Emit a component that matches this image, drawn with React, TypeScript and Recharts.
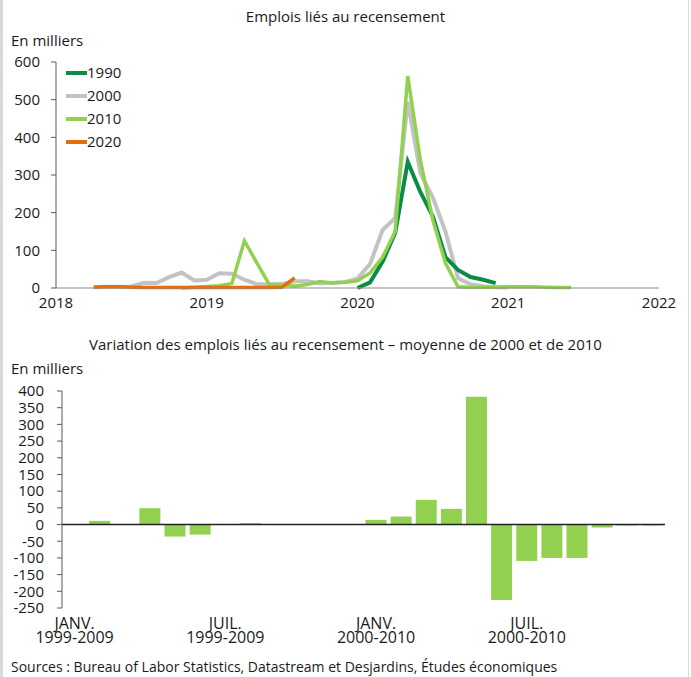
import React from 'react';
import {
  LineChart,
  Line,
  XAxis,
  YAxis,
  BarChart,
  Bar,
  ReferenceLine
} from 'recharts';

const FONT = '"Open Sans", sans-serif';
const TEXT = '#1a1a1a';

// Emplois liés au recensement (en milliers), indices de mois depuis janvier 2018
const yearTicks = [2018, 2019, 2020, 2021, 2022];
const lineTicks = [0, 100, 200, 300, 400, 500, 600];

const start1990 = 24;
const census1990 = [0, 15, 70, 146, 335, 255, 190, 82, 48, 29, 22, 13];

const start2000 = 3;
const census2000 = [
  2, 3, 3, 4, 14, 13, 29, 41, 20, 22, 39, 38, 22, 10, 10, 11, 18, 18, 12, 14, 16,
  25, 64, 154, 186, 495, 305, 240, 150, 26, 10, 5, 2, 1
];

const start2010 = 10;
const census2010 = [
  0, 2, 4, 6, 12, 125, 66, 8, 8, 5, 9, 17, 13, 15, 19, 40, 82, 150, 563, 340,
  180, 66, 3, 2, 2, 2, 3, 3, 3, 2, 1, 1
];

const start2020 = 3;
const census2020 = [2, 3, 3, 2, 1, 1, 1, 1, 1, 1, 1, 1, 1, 1, 1, 2, 27];

const seriesNames = ['1990', '2000', '2010', '2020'];
const seriesColors = ['#0b8c45', '#c3c3c3', '#92d050', '#e46c0a'];

// Variation : moyenne de 2000 et de 2010
const monthNames = ['JANV.', 'FÉVR.', 'MARS', 'AVR.', 'MAI', 'JUIN', 'JUIL.', 'AOÛT', 'SEPT.', 'OCT.', 'NOV.', 'DÉC.'];
const periods = ['1999-2009', '2000-2010'];
const variation = [
  0, 11, 0, 49, -36, -30, 0, 4, 0, 0, 0, 0,
  14, 24, 74, 47, 383, -226, -109, -100, -100, -9, -3, -3
];
const barTicks = [-250, -200, -150, -100, -50, 0, 50, 100, 150, 200, 250, 300, 350, 400];

const lineData = Array.from({ length: 48 }, (_, m) => {
  const pick = (arr: number[], start: number) =>
    m >= start && m < start + arr.length ? arr[m - start] : null;
  return {
    x: 2018 + m / 12,
    s1990: pick(census1990, start1990),
    s2000: pick(census2000, start2000),
    s2010: pick(census2010, start2010),
    s2020: pick(census2020, start2020)
  };
});

const barData = periods.flatMap((p, pi) =>
  monthNames.map((mn, mi) => ({
    name: `${mn}|${p}`,
    value: variation[pi * 12 + mi]
  }))
);

const LegendBox = () => (
  <div style={{ position: 'absolute', top: 61, left: 66, fontFamily: FONT, fontSize: 15, color: TEXT }}>
    {seriesNames.map((n, i) => (
      <div key={n} style={{ display: 'flex', alignItems: 'center', height: 23 }}>
        <div style={{ width: 21, height: 4, background: seriesColors[i] }} />
        <span style={{ lineHeight: '23px' }}>{n}</span>
      </div>
    ))}
  </div>
);

const PeriodTick = (props: any) => {
  const { x, y, payload } = props;
  const [mn, p] = String(payload.value).split('|');
  return (
    <text x={x} textAnchor="middle" fill={TEXT} fontSize={16} fontFamily={FONT}>
      <tspan x={x} y={y + 21}>{mn}</tspan>
      <tspan x={x} y={y + 35}>{p}</tspan>
    </text>
  );
};

const label = (top: number, left: number, text: string, extra: any = {}) => (
  <div
    style={{
      position: 'absolute',
      top,
      left,
      fontFamily: FONT,
      fontSize: 15,
      lineHeight: '20px',
      color: TEXT,
      whiteSpace: 'nowrap',
      ...extra
    }}
  >
    {text}
  </div>
);

export default function App() {
  return (
    <div style={{ position: 'absolute', left: 0, top: 0, width: 691, height: 677, background: '#fff', overflow: 'hidden' }}>
      <div style={{ position: 'absolute', left: 0, top: 0, width: 3, height: 677, background: '#d9d9d9' }} />
      <div style={{ position: 'absolute', left: 688, top: 0, width: 1, height: 677, background: '#dadada' }} />

      {label(6, 0, 'Emplois liés au recensement', { width: 691, textAlign: 'center' })}
      {label(30, 11, 'En milliers')}

      <div style={{ position: 'absolute', left: 0, top: 0 }}>
        <LineChart width={691} height={320} data={lineData} margin={{ top: 62, right: 32, left: 0, bottom: 2 }}>
          <XAxis
            dataKey="x"
            type="number"
            domain={[2018, 2022]}
            ticks={yearTicks}
            allowDecimals={false}
            tickLine={false}
            tickSize={0}
            tickMargin={9}
            height={30}
            axisLine={{ stroke: '#8c8c8c', strokeWidth: 1.2 }}
            tick={{ fill: TEXT, fontSize: 15, fontFamily: FONT }}
          />
          <YAxis
            domain={[0, 600]}
            ticks={lineTicks}
            width={56}
            tickSize={5}
            tickMargin={11}
            interval={0}
            axisLine={{ stroke: '#595959' }}
            tickLine={{ stroke: '#595959' }}
            tick={{ fill: TEXT, fontSize: 15, fontFamily: FONT }}
          />
          <Line dataKey="s2000" name="2000" stroke={seriesColors[1]} strokeWidth={4} dot={false} isAnimationActive={false} />
          <Line dataKey="s1990" name="1990" stroke={seriesColors[0]} strokeWidth={4} dot={false} isAnimationActive={false} />
          <Line dataKey="s2010" name="2010" stroke={seriesColors[2]} strokeWidth={3.5} dot={false} isAnimationActive={false} />
          <Line dataKey="s2020" name="2020" stroke={seriesColors[3]} strokeWidth={3.5} dot={false} isAnimationActive={false} />
        </LineChart>
      </div>
      <LegendBox />

      {label(334, 0, 'Variation des emplois liés au recensement – moyenne de 2000 et de 2010', { width: 691, textAlign: 'center' })}
      {label(358, 11, 'En milliers')}

      <div style={{ position: 'absolute', left: 0, top: 330 }}>
        <BarChart width={691} height={330} data={barData} margin={{ top: 61, right: 26, left: 0, bottom: 2 }} barSize={21}>
          <XAxis
            dataKey="name"
            interval={5}
            tickLine={false}
            axisLine={false}
            tickSize={0}
            tickMargin={0}
            height={50}
            tick={<PeriodTick />}
          />
          <YAxis
            domain={[-250, 400]}
            ticks={barTicks}
            width={62}
            tickSize={5}
            tickMargin={13}
            interval={0}
            axisLine={{ stroke: '#595959' }}
            tickLine={{ stroke: '#595959' }}
            tick={{ fill: TEXT, fontSize: 15, fontFamily: FONT }}
          />
          <ReferenceLine y={0} stroke="#222" strokeWidth={1.5} />
          <Bar dataKey="value" fill="#92d050" isAnimationActive={false} />
        </BarChart>
      </div>

      {label(657, 11, 'Sources : Bureau of Labor Statistics, Datastream et Desjardins, Études économiques', { fontSize: 14 })}
    </div>
  );
}
